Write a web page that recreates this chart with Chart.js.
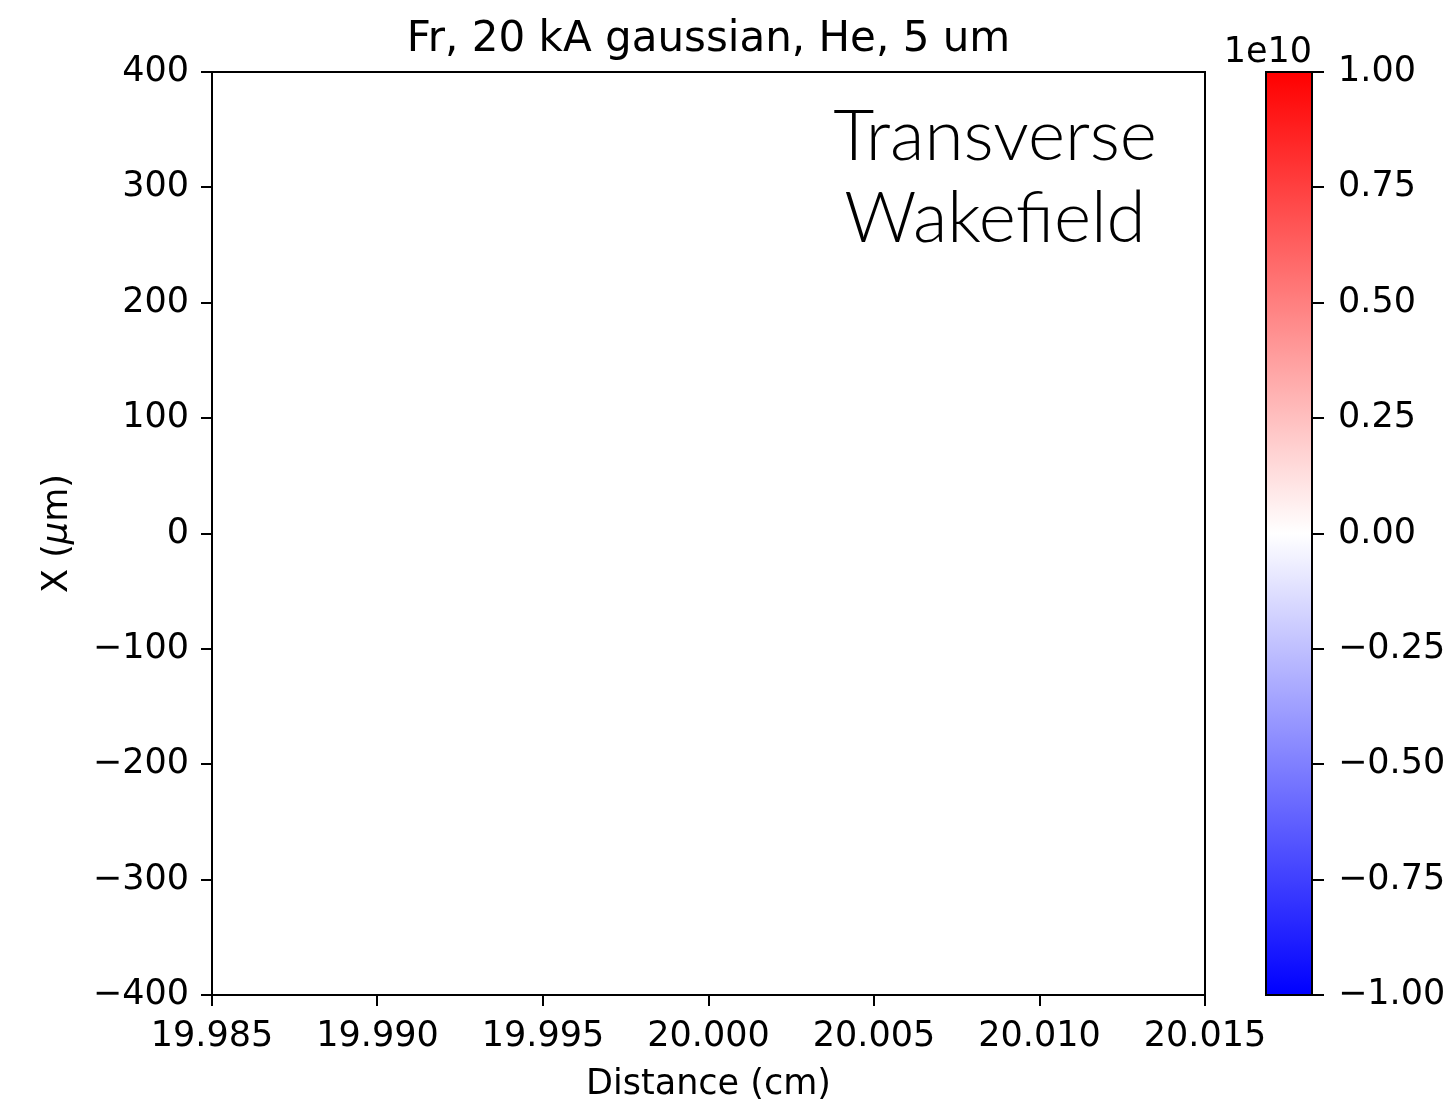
<!DOCTYPE html>
<html>
<head>
<meta charset="utf-8">
<script src="https://cdn.jsdelivr.net/npm/chart.js@4.4.1/dist/chart.umd.min.js"></script>
<style>
  html, body { margin: 0; padding: 0; background: #ffffff; }
  #wrap { position: relative; width: 1455px; height: 1106px; }
  #wrap canvas { position: absolute; left: 0; top: 0; }
</style>
</head>
<body>
<div id="wrap">
  <canvas id="field" width="1455" height="1106"></canvas>
  <canvas id="cbar" width="1455" height="1106"></canvas>
</div>
<script>
// ---- chart text ----
const titleText = 'Fr, 20 kA gaussian, He, 5 um';
const xLabel = 'Distance (cm)';
const yLabelParts = [['X (', 'normal'], ['μ', 'italic'], ['m)', 'normal']];
const annotationLines = ['Transverse', 'Wakefield'];
const cbarExponent = '1e10';

// ---- axes ----
const xRange = [19.985, 20.015];
const yRange = [-400, 400];
const xTicks = [19.985, 19.990, 19.995, 20.000, 20.005, 20.010, 20.015];
const yTicks = [-400, -300, -200, -100, 0, 100, 200, 300, 400];

// ---- transverse field map (units of 1e10 V/m), rows listed bottom to top ----
const xEdges = [19.985, 19.995, 20.005, 20.015];
const yEdges = [-400, -200, 0, 200, 400];
const fieldRows = [
  [0, 0, 0],
  [0, 0, 0],
  [0, 0, 0],
  [0, 0, 0]
];

// ---- colour bar ----
const cbarRange = [-1, 1];
const cbarTicks = [-1.00, -0.75, -0.50, -0.25, 0.00, 0.25, 0.50, 0.75, 1.00];
const bwrStops = [[0, [0, 0, 255]], [0.5, [255, 255, 255]], [1, [255, 0, 0]]];

const FONT = 'DejaVu Sans';
const TICK_SIZE = 35;
const TITLE_SIZE = 42;
const minus = s => s.replace('-', '\u2212');

function bwrColour(v) {
  const t = Math.min(1, Math.max(0, (v - cbarRange[0]) / (cbarRange[1] - cbarRange[0])));
  for (let i = 1; i < bwrStops.length; i++) {
    const [t0, c0] = bwrStops[i - 1];
    const [t1, c1] = bwrStops[i];
    if (t <= t1) {
      const f = (t - t0) / (t1 - t0);
      const c = c0.map((a, k) => Math.round(a + (c1[k] - a) * f));
      return `rgb(${c[0]},${c[1]},${c[2]})`;
    }
  }
  const c = bwrStops[bwrStops.length - 1][1];
  return `rgb(${c[0]},${c[1]},${c[2]})`;
}

// Paints the field cells, frames the axes and writes the title, y label and annotation.
const fieldPlugin = {
  id: 'fieldMap',
  beforeDatasetsDraw(chart) {
    const { ctx, scales: { x, y } } = chart;
    ctx.save();
    fieldRows.forEach((row, j) => {
      row.forEach((v, i) => {
        const x0 = x.getPixelForValue(xEdges[i]);
        const x1 = x.getPixelForValue(xEdges[i + 1]);
        const y0 = y.getPixelForValue(yEdges[j + 1]);
        const y1 = y.getPixelForValue(yEdges[j]);
        ctx.fillStyle = bwrColour(v);
        ctx.fillRect(x0, y0, x1 - x0 + 0.5, y1 - y0 + 0.5);
      });
    });
    ctx.restore();
  },
  afterDraw(chart) {
    const { ctx, chartArea: a } = chart;
    ctx.save();
    ctx.strokeStyle = '#000';
    ctx.lineWidth = 2;
    ctx.strokeRect(a.left, a.top, a.right - a.left, a.bottom - a.top);

    ctx.fillStyle = '#000';
    ctx.textAlign = 'center';
    ctx.textBaseline = 'alphabetic';
    ctx.font = `${TITLE_SIZE}px "${FONT}"`;
    ctx.fillText(titleText, (a.left + a.right) / 2, 51);

    // rotated y label with an italic mu
    ctx.save();
    ctx.translate(67, (a.top + a.bottom) / 2);
    ctx.rotate(-Math.PI / 2);
    ctx.textAlign = 'left';
    const fonts = yLabelParts.map(([, st]) => `${st === 'italic' ? 'italic ' : ''}${TICK_SIZE}px "${FONT}"`);
    const widths = yLabelParts.map(([s], i) => { ctx.font = fonts[i]; return ctx.measureText(s).width; });
    let px = -widths.reduce((p, w) => p + w, 0) / 2;
    yLabelParts.forEach(([s], i) => { ctx.font = fonts[i]; ctx.fillText(s, px, 0); px += widths[i]; });
    ctx.restore();

    ctx.textAlign = 'center';
    ctx.font = '300 71px Lato';
    ctx.fillText(annotationLines[0], 995, 160);
    ctx.fillText(annotationLines[1], 995, 242);
    ctx.restore();
  }
};

new Chart(document.getElementById('field'), {
  type: 'scatter',
  data: { datasets: [] },
  options: {
    responsive: false,
    animation: false,
    devicePixelRatio: 1,
    layout: { padding: { left: 0, top: 72, right: 250, bottom: 0 } },
    plugins: { legend: { display: false }, tooltip: { enabled: false }, title: { display: false } },
    scales: {
      x: {
        type: 'linear',
        min: xRange[0],
        max: xRange[1],
        afterBuildTicks: s => { s.ticks = xTicks.map(v => ({ value: v })); },
        afterFit: s => { s.height = 111; },
        ticks: {
          color: '#000', autoSkip: false, maxRotation: 0, padding: 10,
          font: { family: FONT, size: TICK_SIZE },
          callback: v => v.toFixed(3)
        },
        grid: { drawOnChartArea: false, drawTicks: true, tickLength: 11, color: '#000', lineWidth: 2 },
        border: { color: '#000', width: 2 },
        title: {
          display: true, text: xLabel, color: '#000',
          font: { family: FONT, size: TICK_SIZE }, padding: { top: 0, bottom: 0 }
        }
      },
      y: {
        type: 'linear',
        min: yRange[0],
        max: yRange[1],
        afterBuildTicks: s => { s.ticks = yTicks.map(v => ({ value: v })); },
        afterFit: s => { s.width = 212; },
        ticks: {
          color: '#000', autoSkip: false, padding: 12,
          font: { family: FONT, size: TICK_SIZE },
          callback: v => minus(String(v))
        },
        grid: { drawOnChartArea: false, drawTicks: true, tickLength: 11, color: '#000', lineWidth: 2 },
        border: { color: '#000', width: 2 }
      }
    }
  },
  plugins: [fieldPlugin]
});

// Colour bar: a single floating bar spanning the colour range, filled with the bwr ramp.
const cbarPlugin = {
  id: 'cbarFrame',
  afterDraw(chart) {
    const { ctx, chartArea: a } = chart;
    ctx.save();
    ctx.strokeStyle = '#000';
    ctx.lineWidth = 2;
    ctx.strokeRect(a.left, a.top, a.right - a.left, a.bottom - a.top);
    ctx.fillStyle = '#000';
    ctx.font = `${TICK_SIZE}px "${FONT}"`;
    ctx.textAlign = 'right';
    ctx.textBaseline = 'alphabetic';
    ctx.fillText(cbarExponent, a.right, 62);
    ctx.restore();
  }
};

new Chart(document.getElementById('cbar'), {
  type: 'bar',
  data: {
    labels: [''],
    datasets: [{
      data: [[cbarRange[0], cbarRange[1]]],
      barPercentage: 1,
      categoryPercentage: 1,
      borderWidth: 0,
      backgroundColor: (c) => {
        const chart = c.chart;
        if (!chart.chartArea) return '#fff';
        const y = chart.scales.y;
        const g = chart.ctx.createLinearGradient(0, y.getPixelForValue(cbarRange[0]), 0, y.getPixelForValue(cbarRange[1]));
        bwrStops.forEach(([t, col]) => g.addColorStop(t, `rgb(${col[0]},${col[1]},${col[2]})`));
        return g;
      }
    }]
  },
  options: {
    responsive: false,
    animation: false,
    devicePixelRatio: 1,
    layout: { padding: { left: 1266, top: 72, right: 0, bottom: 111 } },
    plugins: { legend: { display: false }, tooltip: { enabled: false }, title: { display: false } },
    scales: {
      x: { display: false },
      y: {
        position: 'right',
        min: cbarRange[0],
        max: cbarRange[1],
        afterBuildTicks: s => { s.ticks = cbarTicks.map(v => ({ value: v })); },
        afterFit: s => { s.width = 143; },
        ticks: {
          color: '#000', autoSkip: false, padding: 14,
          font: { family: FONT, size: TICK_SIZE },
          callback: v => minus(v.toFixed(2))
        },
        grid: { drawOnChartArea: false, drawTicks: true, tickLength: 12, color: '#000', lineWidth: 2 },
        border: { color: '#000', width: 2 }
      }
    }
  },
  plugins: [cbarPlugin]
});
</script>
</body>
</html>
